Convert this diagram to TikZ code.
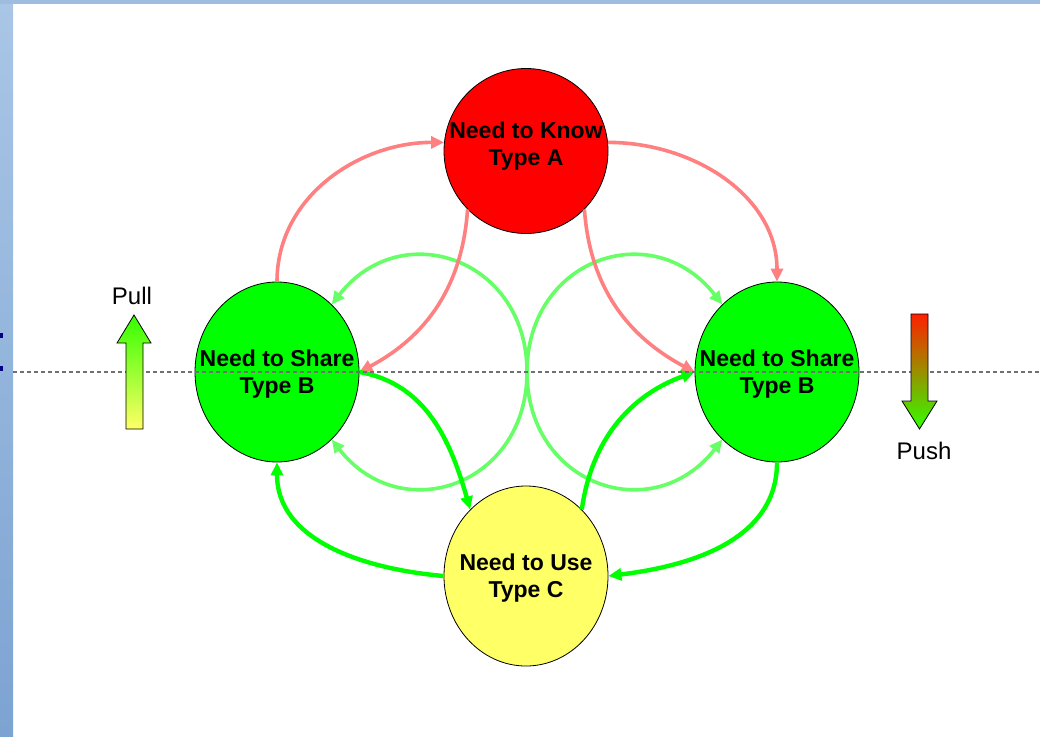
\documentclass[tikz,border=0pt]{standalone}
\usepackage{fontspec}
\setmainfont{Liberation Sans}
\usetikzlibrary{arrows.meta,shapes.geometric}
\definecolor{knowred}{HTML}{FF0000}
\definecolor{sharegreen}{HTML}{00FF00}
\definecolor{useyellow}{HTML}{FFFF66}
\definecolor{linkred}{HTML}{FF8080}
\definecolor{linkgreen}{HTML}{00FF00}
\definecolor{swapgreen}{HTML}{66FF66}
\definecolor{stripup}{HTML}{A9C6E6}
\definecolor{stripdown}{HTML}{7DA3D2}
\definecolor{topbar}{HTML}{9DBCE0}
\definecolor{marknavy}{HTML}{000080}
\definecolor{dashgray}{HTML}{707070}
\definecolor{pullgreen}{HTML}{33FF00}
\definecolor{pushred}{HTML}{FF2000}
\definecolor{pushmid}{HTML}{CCB800}

\begin{document}
\begin{tikzpicture}[x=1pt,y=1pt,
 ball/.style={ellipse,draw,line width=0.8pt,inner sep=0pt,minimum width=164pt,minimum height=180pt},
 btext/.style={align=center,font=\fontsize{23}{27}\selectfont\bfseries,yshift=-2pt},
 ptext/.style={font=\fontsize{24}{28}\selectfont},
 pinkarr/.style={draw=linkred,line width=3.6pt,-{Triangle[length=13pt,width=12pt]}},
 greenarr/.style={draw=linkgreen,line width=4.4pt,-{Triangle[length=13pt,width=12pt]}},
 swaparr/.style={draw=swapgreen,line width=3.6pt,{Triangle[length=13pt,width=12pt]}-{Triangle[length=13pt,width=12pt]}}]
 \useasboundingbox (0,0) rectangle (1040,-736);
 \shade[top color=stripup,bottom color=stripdown] (0,0) rectangle (13,-736);
 \fill[topbar] (0,0) rectangle (1040,-4);
 \foreach \y in {333,366}{\fill[marknavy] (0,-\y) rectangle (3,-\y-5);}
 \node[ball,fill=knowred,minimum height=165pt,label={[btext,yshift=6.5pt]center:Need to Know\\Type A}] (know) at (526,-151) {};
 \node[ball,fill=sharegreen,label={[btext]center:Need to Share\\Type B}] (share1) at (277,-372) {};
 \node[ball,fill=sharegreen,label={[btext]center:Need to Share\\Type B}] (share2) at (777,-372) {};
 \node[ball,fill=useyellow,label={[btext]center:Need to Use\\Type C}] (use) at (526,-576) {};
 \coordinate (cross) at (527,-372);
 \draw[swaparr] (share1.51) to[out=52,in=90,looseness=1.4] (cross) to[out=270,in=-52,looseness=1.4] (share1.-51);
 \draw[swaparr] (share2.129) to[out=128,in=90,looseness=1.4] (cross) to[out=270,in=232,looseness=1.4] (share2.231);
 \draw[pinkarr] (share1.north) to[out=90,in=180] (know.174);
 \draw[pinkarr] (know.6) to[out=0,in=90] (share2.north);
 \draw[pinkarr] (know.225) to[out=266,in=28] (share1.east);
 \draw[pinkarr] (know.315) to[out=274,in=152] (share2.west);
 \draw[greenarr] (share1.east) to[out=-10,in=106] (use.130);
 \draw[greenarr] (use.50) to[out=82,in=200] (share2.west);
 \draw[greenarr] (use.west) to[out=175,in=270] (share1.south);
 \draw[greenarr] (share2.south) to[out=270,in=7] (use.east);
 \draw[dashgray,line width=1.3pt,dash pattern=on 4pt off 3pt] (13,-372) -- (1040,-372);
 \draw[line width=0.8pt,top color=pullgreen,bottom color=useyellow] (126,-429) -- (126,-343) -- (117,-343) -- (134,-315) -- (151,-343) -- (143,-343) -- (143,-429) -- cycle;
 \draw[line width=0.8pt,top color=pushred,middle color=pushmid,bottom color=pullgreen] (911,-314) -- (928,-314) -- (928,-401) -- (937,-401) -- (919.5,-429) -- (902,-401) -- (911,-401) -- cycle;
 \node[ptext] (pull) at (132,-296) {Pull};
 \node[ptext] (push) at (924,-451) {Push};
\end{tikzpicture}
\end{document}
